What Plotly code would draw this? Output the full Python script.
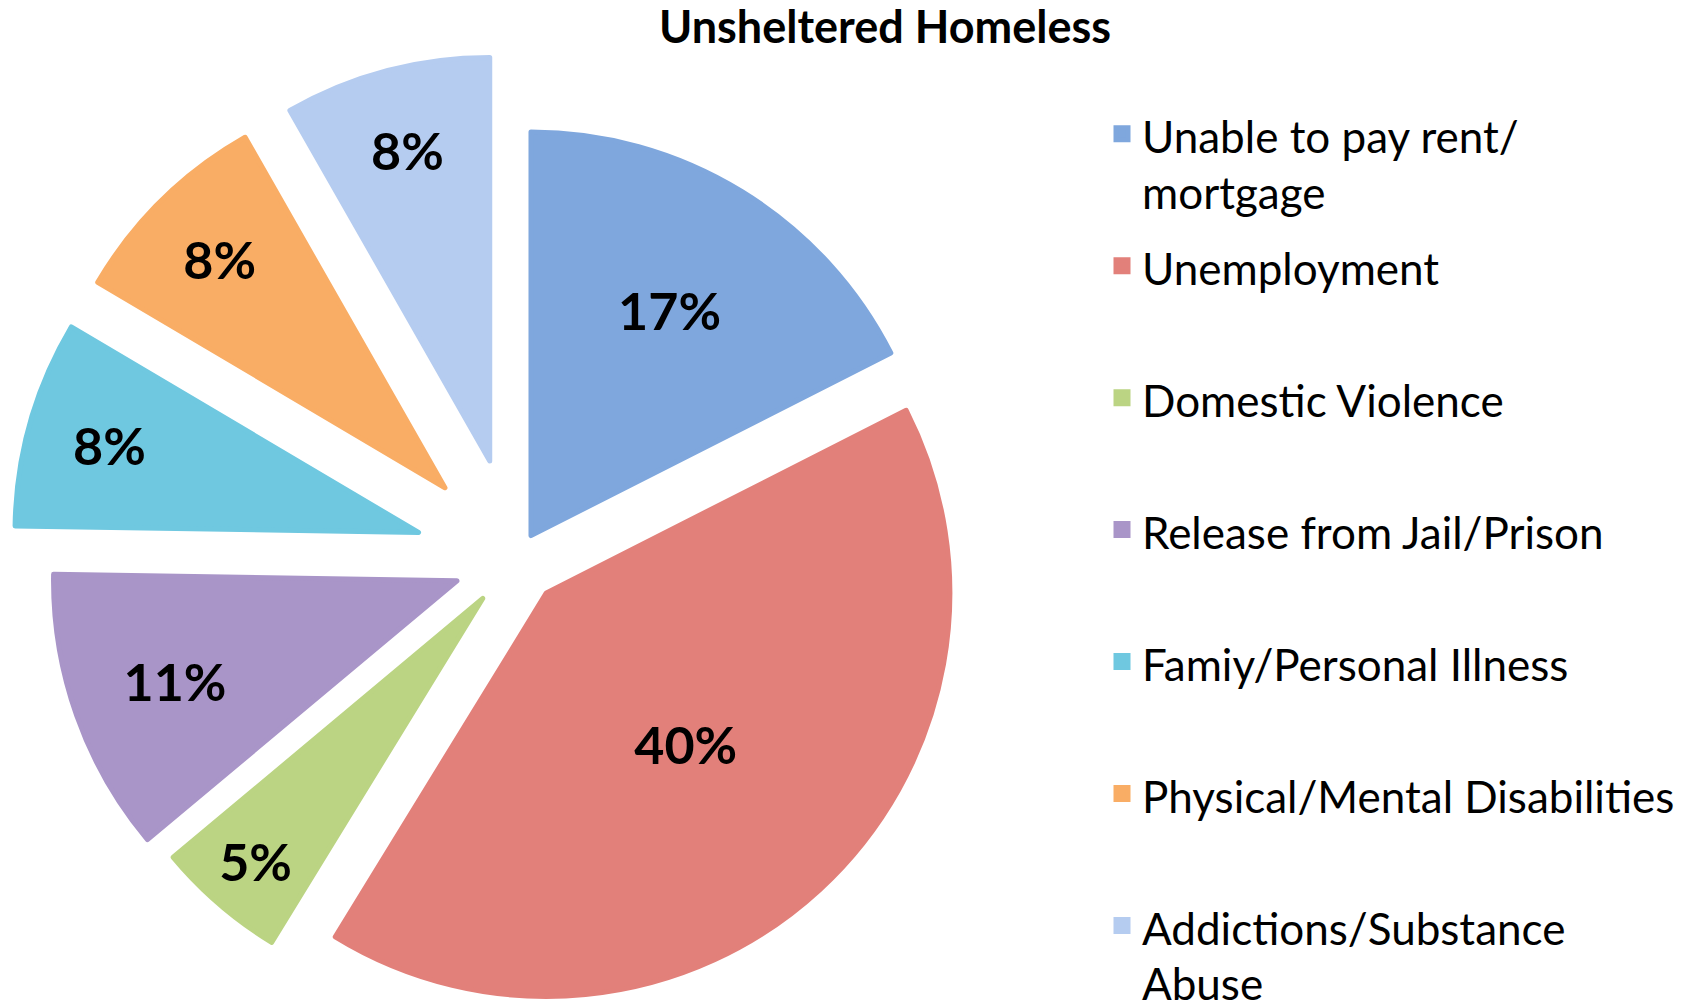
import plotly.graph_objects as go

# ---- data ----
categories = [
    "Unable to pay rent/<br>mortgage",
    "Unemployment",
    "Domestic Violence",
    "Release from Jail/Prison",
    "Famiy/Personal Illness",
    "Physical/Mental Disabilities",
    "Addictions/Substance<br>Abuse",
]
values = [17, 40, 5, 11, 8, 8, 8]
colors = ["#7FA7DD", "#E2807A", "#BBD483", "#A995C8", "#6FC8E0", "#F9AD65", "#B5CCF0"]
pulls = [0.071, 0.111, 0.126, 0.155, 0.251, 0.251, 0.254]
title_text = "Unsheltered Homeless"

FIG_W, FIG_H = 1694, 1120
LEG_TEXT = 44


def legend_label(s):
    if "<br>" not in s:
        s = s + "<br>&nbsp;"
    parts = s.split("<br>")
    out = [f"<span style='font-size:{LEG_TEXT}px'>{parts[0]}</span>"]
    for p in parts[1:]:
        out.append(f"<span style='font-size:{LEG_TEXT}px;baseline-shift:9px'>{p}</span>")
    return "<br>".join(out)


labels = [legend_label(c) for c in categories]

fig = go.Figure(
    go.Pie(
        labels=labels,
        values=values,
        sort=False,
        direction="clockwise",
        rotation=0,
        pull=pulls,
        marker=dict(colors=colors, line=dict(width=5, color=colors)),
        texttemplate="%{value}%",
        textposition="inside",
        insidetextorientation="horizontal",
        textfont=dict(family="Lato", size=52, color="black", weight="bold"),
        hoverinfo="skip",
        domain=dict(x=[10 / FIG_W, 1022 / FIG_W], y=[(FIG_H - 1066) / FIG_H, (FIG_H - 54) / FIG_H]),
    )
)

fig.update_layout(
    width=FIG_W,
    height=FIG_H,
    margin=dict(l=0, r=0, t=0, b=0),
    paper_bgcolor="white",
    plot_bgcolor="white",
    title=dict(
        text="<b>" + title_text + "</b>",
        x=885 / FIG_W,
        xanchor="center",
        y=1 - 27 / FIG_H,
        yanchor="middle",
        font=dict(family="Lato", size=45, color="black"),
    ),
    uniformtext=dict(minsize=52, mode="show"),
    legend=dict(
        x=1102 / FIG_W,
        xanchor="left",
        y=1 - 95 / FIG_H,
        yanchor="top",
        font=dict(family="Lato", size=49.6, color="black"),
        valign="top",
        bgcolor="rgba(0,0,0,0)",
        itemwidth=30,
    ),
    showlegend=True,
)

post = (
    "document.documentElement.style.margin='0';"
    "document.body.style.margin='0';"
    "document.documentElement.style.overflow='hidden';"
    "document.body.style.overflow='hidden';"
    "var gd=document.getElementById('{plot_id}');"
    "gd.style.height='1005px';gd.style.overflow='hidden';"
)

fig.write_html("out.html", post_script=post, config={"displayModeBar": False})
